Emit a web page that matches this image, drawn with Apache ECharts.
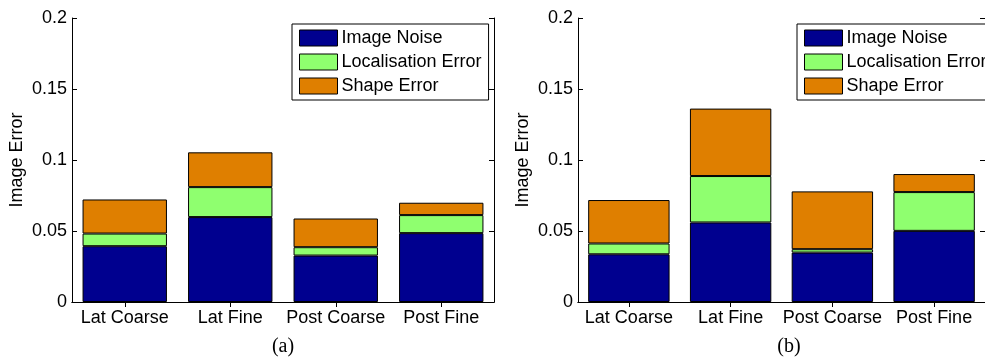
<!DOCTYPE html>
<html>
<head>
<meta charset="utf-8">
<script src="https://cdn.jsdelivr.net/npm/echarts@6/dist/echarts.min.js"></script>
<style>
html,body{margin:0;padding:0;background:#fff;}
#chart{width:985px;height:360px;}
</style>
</head>
<body>
<div id="chart"></div>
<script>
const categories = ['Lat Coarse', 'Lat Fine', 'Post Coarse', 'Post Fine'];
const seriesNames = ['Image Noise', 'Localisation Error', 'Shape Error'];
const yTickLabels = ['0', '0.05', '0.1', '0.15', '0.2'];
// panel (a)
const aImageNoise = [0.0393, 0.0598, 0.0327, 0.0485];
const aLocalisation = [0.0089, 0.0211, 0.0059, 0.0127];
const aShape = [0.0240, 0.0245, 0.0202, 0.0087];
// panel (b)
const bImageNoise = [0.0336, 0.0560, 0.0348, 0.0501];
const bLocalisation = [0.0076, 0.0327, 0.0024, 0.0273];
const bShape = [0.0306, 0.0475, 0.0407, 0.0127];
const captions = ['(a)', '(b)'];

const colors = ['#00008F', '#8FFF6F', '#DF7F00'];
const FONT = '"Liberation Sans", Arial, Helvetica, sans-serif';
const chart = echarts.init(document.getElementById('chart'), null, {renderer: 'canvas'});

const panels = [
  {left: 72, data: [aImageNoise, aLocalisation, aShape], legendLeft: 292},
  {left: 578, data: [bImageNoise, bLocalisation, bShape], legendLeft: 797}
];

const grid = [], xAxis = [], yAxis = [], series = [], legend = [], graphic = [];
panels.forEach((p, i) => {
  grid.push({left: p.left, top: 18, width: 422, height: 284, containLabel: false});
  const lineStyle = {color: '#000', width: 1};
  xAxis.push({
    type: 'category', gridIndex: i, data: categories, position: 'bottom',
    axisLine: {lineStyle}, axisTick: {show: true, inside: true, length: 5, alignWithLabel: true, interval: 0, lineStyle},
    axisLabel: {color: '#000', fontSize: 18, fontFamily: FONT, margin: 7, interval: 0},
    splitLine: {show: false}
  });
  xAxis.push({
    type: 'category', gridIndex: i, data: categories, position: 'top',
    axisLine: {lineStyle}, axisTick: {show: true, inside: true, length: 5, alignWithLabel: true, interval: 0, lineStyle},
    axisLabel: {show: false, interval: 0}, splitLine: {show: false}
  });
  yAxis.push({
    type: 'value', gridIndex: i, min: 0, max: 0.2, interval: 0.05, position: 'left',
    name: 'Image Error', nameLocation: 'middle', nameRotate: 90, nameGap: 46,
    nameTextStyle: {color: '#000', fontSize: 18, fontFamily: FONT},
    axisLine: {show: true, lineStyle}, axisTick: {show: true, inside: true, length: 5, lineStyle},
    axisLabel: {color: '#000', fontSize: 18, fontFamily: FONT, margin: 5,
      formatter: (v) => yTickLabels[Math.round(v / 0.05)]},
    splitLine: {show: false}
  });
  yAxis.push({
    type: 'value', gridIndex: i, min: 0, max: 0.2, interval: 0.05, position: 'right',
    axisLine: {show: true, lineStyle}, axisTick: {show: true, inside: true, length: 5, lineStyle},
    axisLabel: {show: false}, splitLine: {show: false}
  });
  p.data.forEach((arr, k) => {
    series.push({
      type: 'bar', name: seriesNames[k], xAxisIndex: i * 2, yAxisIndex: i * 2,
      stack: 'panel' + i, data: arr, barWidth: '80%',
      itemStyle: {color: colors[k], borderColor: '#000', borderWidth: 1},
      emphasis: {disabled: true}, animation: false
    });
  });
  legend.push({
    left: p.legendLeft, top: 24, orient: 'vertical',
    data: seriesNames,
    itemWidth: 38, itemHeight: 16, itemGap: 6,
    padding: [5, 7, 5, 7],
    borderColor: '#000', borderWidth: 1, backgroundColor: '#fff',
    selectedMode: false,
    icon: 'rect',
    textStyle: {color: '#000', fontSize: 18, fontFamily: FONT, lineHeight: 16, padding: [0, 0, 0, -1]},
    itemStyle: {borderColor: '#000', borderWidth: 1}
  });
  graphic.push({
    type: 'text', x: p.left + 211, y: 337,
    style: {text: captions[i], font: '20px "Liberation Serif", "Times New Roman", serif', fill: '#000', textAlign: 'center'}
  });
});

chart.setOption({
  animation: false,
  grid, xAxis, yAxis, series, legend, graphic
});
</script>
</body>
</html>
